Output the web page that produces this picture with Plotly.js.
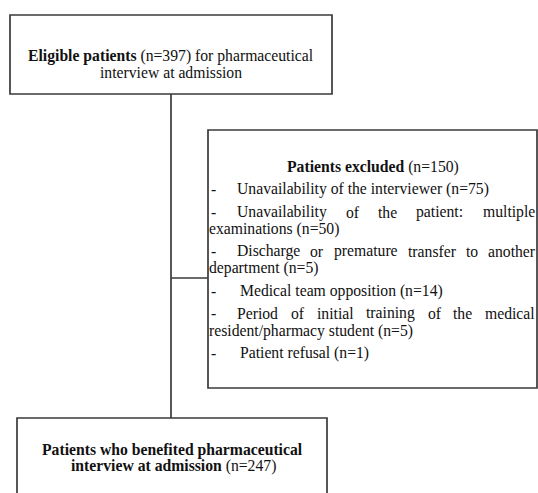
<!DOCTYPE html>
<html>
<head>
<meta charset="utf-8">
<script src="https://cdn.plot.ly/plotly-3.0.1.min.js"></script>
<style>html,body{margin:0;padding:0;background:#fff;}#chart{width:538px;height:493px;}</style>
</head>
<body>
<div id="chart"></div>
<script>
// ---- data ----
const eligibleLabel = "Eligible patients";
const eligibleN = 397;
const excludedLabel = "Patients excluded";
const excludedN = 150;
const includedLabel = "Patients who benefited pharmaceutical interview at admission";
const includedN = 247;
const reasons = [
  "Unavailability of the interviewer",
  "Unavailability of the patient: multiple examinations",
  "Discharge or premature transfer to another department",
  "Medical team opposition",
  "Period of initial training of the medical resident/pharmacy student",
  "Patient refusal"
];
const reasonCounts = [75, 50, 5, 14, 5, 1];
// words kept on the first (justified) line of each reason; 0 = single line
const firstLineWords = [0, 5, 6, 0, 7, 0];

// ---- layout helpers ----
const FONT = "Liberation Serif";
const FS = 15.7;
const ctx = document.createElement("canvas").getContext("2d");
ctx.font = FS + "px 'Liberation Serif'";
const tw = s => ctx.measureText(s).width;

const ann = [];
function txt(x, y, text, anchor) {
  ann.push({
    x: x, y: y, xref: "x", yref: "y", text: text, showarrow: false,
    xanchor: anchor || "center", yanchor: "middle",
    borderpad: 0, borderwidth: 0,
    font: {family: FONT, size: FS, color: "#111"}
  });
}

const LINE = "#3a3a3a";
const boxes = [
  {x0: 10, y0: 15, x1: 332, y1: 94},
  {x0: 208, y0: 130, x1: 537, y1: 388},
  {x0: 17, y0: 418, x1: 327, y1: 520}
];
const shapes = boxes.map(b => ({
  type: "rect", xref: "x", yref: "y", x0: b.x0, y0: b.y0, x1: b.x1, y1: b.y1,
  line: {color: LINE, width: 1.7}, fillcolor: "rgba(0,0,0,0)"
}));
shapes.push({type: "line", xref: "x", yref: "y", x0: 171, x1: 171, y0: 94, y1: 418, line: {color: LINE, width: 1.7}});
shapes.push({type: "line", xref: "x", yref: "y", x0: 171, x1: 208, y0: 278, y1: 278, line: {color: LINE, width: 1.7}});

// top box
txt(171, 56, "<b>" + eligibleLabel + "</b> (n=" + eligibleN + ") for pharmaceutical");
txt(171, 72, "interview at admission");

// excluded box
txt(373, 167, "<b>" + excludedLabel + "</b> (n=" + excludedN + ")");
const lineYs = [[189], [212, 229], [251, 268], [291], [313, 331], [353]];
const textLeft = 237, textRight = 535, dashX = 211, wrapLeft = 209;
reasons.forEach((r, i) => {
  const words = (r + " (n=" + reasonCounts[i] + ")").split(" ");
  const ys = lineYs[i];
  txt(dashX, ys[0], "-", "left");
  if (firstLineWords[i] === 0) {
    txt(textLeft + (i >= 3 ? 3 : 0), ys[0], words.join(" "), "left");
  } else {
    const first = words.slice(0, firstLineWords[i]);
    const rest = words.slice(firstLineWords[i]);
    const widths = first.map(tw);
    const total = widths.reduce((a, b) => a + b, 0);
    const gap = (textRight - textLeft - total) / (first.length - 1);
    let x = textLeft;
    first.forEach((w, k) => { txt(x, ys[0], w, "left"); x += widths[k] + gap; });
    txt(wrapLeft, ys[1], rest.join(" "), "left");
  }
});

// bottom box
const incWords = includedLabel.split(" ");
txt(172, 450, "<b>" + incWords.slice(0, 4).join(" ") + "</b>");
txt(173, 466, "<b>" + incWords.slice(4).join(" ") + "</b> (n=" + includedN + ")");

Plotly.newPlot("chart", [{x: [], y: [], type: "scatter"}], {
  width: 538, height: 493,
  margin: {l: 0, r: 0, t: 0, b: 0},
  paper_bgcolor: "#fff", plot_bgcolor: "#fff",
  font: {family: FONT},
  xaxis: {range: [0, 538], visible: false, fixedrange: true},
  yaxis: {range: [493, 0], visible: false, fixedrange: true},
  showlegend: false,
  shapes: shapes,
  annotations: ann
}, {staticPlot: true, displayModeBar: false});
</script>
</body>
</html>
